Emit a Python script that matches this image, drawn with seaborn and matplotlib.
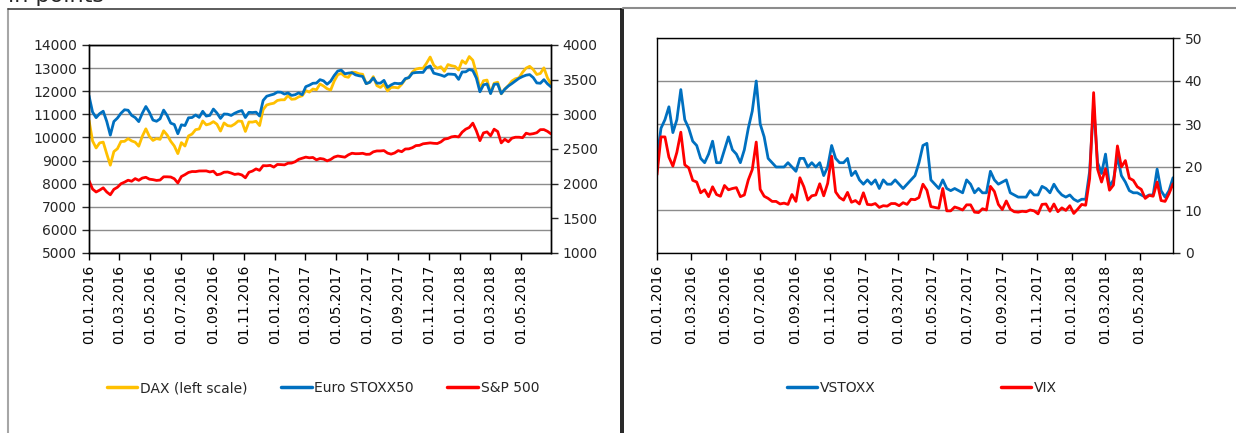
import matplotlib
matplotlib.use("Agg")
import matplotlib.pyplot as plt
import matplotlib.dates as mdates
from matplotlib.lines import Line2D
import seaborn as sns
import pandas as pd

# weekly readings (Fridays), 01.01.2016 - 29.06.2018
dates = pd.date_range("2016-01-01", "2018-06-29", freq="W-FRI")

dax = [
    # 2016
    10743, 9849, 9545, 9764, 9798, 9286, 8800, 9388, 9513, 9824, 9831, 9950, 9851,
    9794, 9622, 10051, 10373, 10039, 9870, 9952, 9917, 10287, 10103, 9834, 9631, 9300,
    9776, 9629, 10066, 10147, 10337, 10367, 10713, 10544, 10588, 10684, 10573, 10276,
    10627, 10511, 10490, 10580, 10711, 10696, 10259, 10668, 10664, 10700, 10513, 11203,
    11404, 11450, 11481,
    # 2017
    11599, 11629, 11630, 11814, 11651, 11666, 11757, 11804, 12027, 11963, 12095, 12064,
    12313, 12225, 12109, 12049, 12438, 12717, 12770, 12638, 12602, 12823, 12815, 12753,
    12733, 12325, 12389, 12631, 12240, 12163, 12298, 12014, 12165, 12168, 12143, 12304,
    12519, 12592, 12829, 12956, 12992, 12991, 13217, 13479, 13127, 12994, 13060, 12861,
    13153, 13104, 13072, 12918,
    # 2018
    13320, 13202, 13500, 13340, 12785, 12107, 12452, 12483, 11914, 12346, 12390, 11886,
    12097, 12241, 12442, 12540, 12580, 12820, 13001, 13078, 12938, 12724, 12767, 13011,
    12580, 12306,
]

stoxx50 = [
    # 2016
    3268, 3033, 2952, 3010, 3045, 2897, 2700, 2897, 2946, 3016, 3066, 3059, 2985,
    2953, 2895, 3016, 3113, 3028, 2917, 2900, 2935, 3061, 2983, 2873, 2853, 2720,
    2849, 2838, 2950, 2954, 2991, 2956, 3044, 2975, 2985, 3076, 3019, 2941, 3005,
    3002, 2984, 3016, 3039, 3055, 2954, 3029, 3026, 3031, 2976, 3200, 3261, 3277, 3291,
    # 2017
    3321, 3319, 3292, 3309, 3273, 3283, 3310, 3283, 3399, 3420, 3448, 3451, 3500,
    3483, 3434, 3478, 3560, 3625, 3637, 3585, 3595, 3601, 3569, 3556, 3547, 3442,
    3463, 3525, 3450, 3450, 3490, 3389, 3424, 3449, 3443, 3447, 3515, 3530, 3595,
    3603, 3605, 3605, 3674, 3697, 3594, 3580, 3566, 3547, 3581, 3579, 3574, 3504,
    # 2018
    3611, 3613, 3647, 3631, 3523, 3325, 3425, 3439, 3299, 3433, 3437, 3298, 3362,
    3409, 3444, 3483, 3520, 3545, 3565, 3573, 3530, 3453, 3448, 3500, 3440, 3396,
]

sp500 = [
    # 2016
    2044, 1922, 1880, 1907, 1940, 1880, 1840, 1918, 1948, 1999, 2022, 2050, 2035,
    2073, 2048, 2081, 2092, 2065, 2058, 2047, 2052, 2099, 2099, 2096, 2071, 2010,
    2103, 2130, 2162, 2175, 2174, 2183, 2184, 2184, 2169, 2180, 2128, 2139, 2165,
    2168, 2153, 2133, 2141, 2126, 2085, 2164, 2182, 2213, 2192, 2260, 2258, 2264, 2239,
    # 2017
    2277, 2275, 2271, 2295, 2297, 2316, 2351, 2367, 2383, 2373, 2378, 2344, 2363,
    2355, 2329, 2349, 2384, 2399, 2391, 2382, 2416, 2439, 2432, 2433, 2438, 2423,
    2425, 2459, 2472, 2472, 2477, 2441, 2426, 2443, 2477, 2461, 2500, 2502, 2519,
    2549, 2553, 2575, 2581, 2588, 2582, 2579, 2602, 2642, 2652, 2675, 2683, 2674,
    # 2018
    2743, 2786, 2810, 2873, 2762, 2620, 2732, 2747, 2691, 2786, 2752, 2588, 2641,
    2604, 2656, 2670, 2670, 2663, 2728, 2713, 2721, 2735, 2779, 2780, 2755, 2718,
]

vstoxx = [
    # 2016
    22, 29, 31, 34, 28, 31, 38, 31, 29, 26, 25, 22, 21,
    23, 26, 21, 21, 24, 27, 24, 23, 21, 24, 29, 33, 40,
    30, 27, 22, 21, 20, 20, 20, 21, 20, 19, 22, 22, 20,
    21, 20, 21, 18, 20, 25, 22, 21, 21, 22, 18, 19, 17, 16,
    # 2017
    17, 16, 17, 15, 17, 16, 16, 17, 16, 15, 16, 17, 18,
    21, 25, 25.5, 17, 16, 15, 17, 15, 14.5, 15, 14.5, 14, 17,
    16, 14, 15, 14, 14, 19, 17, 16, 16.5, 17, 14, 13.5, 13,
    13, 13, 14.5, 13.5, 13.5, 15.5, 15, 14, 16, 14.5, 13.5, 13, 13.5,
    # 2018
    12.5, 12, 12.5, 12.5, 19, 34.5, 21, 18.5, 23, 15.5, 17, 22.5, 18,
    16.5, 14.5, 14, 14, 13.5, 13, 13.5, 13.5, 19.5, 14.5, 13, 14.5, 17.5,
]

vix = [
    # 2016
    18.2, 27.0, 27.0, 22.3, 20.2, 23.4, 28.1, 20.5, 19.8, 16.9, 16.5, 14.0, 14.7,
    13.1, 15.4, 13.6, 13.2, 15.7, 14.7, 15.0, 15.2, 13.1, 13.5, 17.0, 19.4, 25.8,
    14.8, 13.2, 12.7, 12.0, 12.0, 11.4, 11.6, 11.3, 13.6, 12.0, 17.5, 15.4, 12.3,
    13.3, 13.5, 16.1, 13.3, 16.2, 22.5, 14.2, 12.9, 12.3, 14.1, 11.8, 12.2, 11.4, 14.0,
    # 2017
    11.3, 11.2, 11.5, 10.6, 11.0, 10.9, 11.5, 11.5, 11.0, 11.7, 11.3, 12.5, 12.4,
    12.9, 16.0, 14.6, 10.8, 10.6, 10.4, 15.0, 9.8, 9.8, 10.7, 10.4, 10.0, 11.2,
    11.2, 9.5, 9.4, 10.3, 10.0, 15.5, 14.3, 11.3, 10.1, 12.1, 10.2, 9.6, 9.5,
    9.7, 9.6, 10.0, 9.8, 9.1, 11.3, 11.4, 9.7, 11.4, 9.6, 10.5, 9.9, 11.0,
    # 2018
    9.2, 10.2, 11.3, 11.1, 17.3, 37.3, 19.5, 16.5, 19.6, 14.6, 15.8, 24.9, 20.0,
    21.5, 17.4, 16.9, 15.4, 14.8, 12.7, 13.4, 13.2, 16.5, 12.2, 12.0, 13.8, 16.1,
]

df = pd.DataFrame({"date": dates, "dax": dax, "stoxx50": stoxx50, "sp500": sp500,
                   "vstoxx": vstoxx, "vix": vix})

sns.set_style("white")
plt.rcParams["font.family"] = ["DejaVu Sans"]
plt.rcParams["font.size"] = 10

W, H = 1236, 433
fig = plt.figure(figsize=(W / 100, H / 100), dpi=100)

YELLOW, BLUE, RED = "#FFC000", "#0070C0", "#FF0000"
LW = 2.0


def px(x0, y_top, x1, y_bot):
    return [x0 / W, 1 - y_bot / H, (x1 - x0) / W, (y_bot - y_top) / H]


def style_dates(ax):
    ax.set_xlim(pd.Timestamp("2016-01-01"), pd.Timestamp("2018-06-29"))
    ax.xaxis.set_major_locator(mdates.MonthLocator(bymonth=(1, 3, 5, 7, 9, 11)))
    ax.xaxis.set_major_formatter(mdates.DateFormatter("%d.%m.%Y"))
    ax.tick_params(axis="x", rotation=90, direction="out", length=5, width=1,
                   labelsize=10, bottom=True, colors="black")
    ax.set_xlabel("")


# ---- left panel: stock indices
ax1 = fig.add_axes(px(89, 45, 551, 253))
sns.lineplot(data=df, x="date", y="dax", ax=ax1, color=YELLOW, lw=LW)
ax1.set_ylim(5000, 14000)
ax1.set_yticks(range(5000, 14001, 1000))
ax1.yaxis.grid(True, color="#8c8c8c", lw=1)
ax1.set_axisbelow(True)
ax1.set_ylabel("")
ax1.tick_params(axis="y", direction="out", length=5, width=1, labelsize=10, left=True)
style_dates(ax1)

ax2 = ax1.twinx()
sns.lineplot(data=df, x="date", y="stoxx50", ax=ax2, color=BLUE, lw=LW)
sns.lineplot(data=df, x="date", y="sp500", ax=ax2, color=RED, lw=LW)
ax2.set_ylim(1000, 4000)
ax2.set_yticks(range(1000, 4001, 500))
ax2.set_ylabel("")
ax2.tick_params(axis="y", direction="out", length=5, width=1, labelsize=10, right=True)
style_dates(ax2)

for a in (ax1, ax2):
    for s in a.spines.values():
        s.set_color("black")
        s.set_linewidth(1)

fig.legend([Line2D([], [], color=c, lw=2.5) for c in (YELLOW, BLUE, RED)],
           ["DAX (left scale)", "Euro STOXX50", "S&P 500"],
           loc="center", bbox_to_anchor=(323 / W, 1 - 388 / H), ncol=3, frameon=False,
           fontsize=10, handlelength=2.2, handletextpad=0.2, columnspacing=2.4)

# ---- right panel: volatility indices
ax3 = fig.add_axes(px(657, 38, 1173, 253))
sns.lineplot(data=df, x="date", y="vstoxx", ax=ax3, color=BLUE, lw=LW)
sns.lineplot(data=df, x="date", y="vix", ax=ax3, color=RED, lw=LW)
ax3.set_ylim(0, 50)
ax3.set_yticks(range(0, 51, 10))
ax3.yaxis.grid(True, color="#8c8c8c", lw=1)
ax3.set_axisbelow(True)
ax3.yaxis.tick_right()
ax3.set_ylabel("")
ax3.tick_params(axis="y", direction="out", length=5, width=1, labelsize=10, right=True, left=False)
style_dates(ax3)
for s in ax3.spines.values():
    s.set_color("black")
    s.set_linewidth(1)

fig.legend([Line2D([], [], color=c, lw=2.5) for c in (BLUE, RED)],
           ["VSTOXX", "VIX"],
           loc="center", bbox_to_anchor=(922 / W, 1 - 388 / H), ncol=2, frameon=False,
           fontsize=10, handlelength=2.2, handletextpad=0.2, columnspacing=9)

# ---- panel frames and the heading that is cut off at the top edge
def frame_line(x0, y0, x1, y1, color, lw=1.2):
    fig.add_artist(Line2D([x0 / W, x1 / W], [1 - y0 / H, 1 - y1 / H],
                          transform=fig.transFigure, color=color, lw=lw))


frame_line(7.5, 8.5, 7.5, H, "#a6a6a6", 1.5)
frame_line(7.5, 8.5, 620.5, 8.5, "#404040")
frame_line(620.5, 8.5, 620.5, H, "black")
frame_line(622.5, 8.5, 622.5, H, "black")
frame_line(622.5, 7.5, W, 7.5, "#8c8c8c", 1.5)

fig.text(8 / W, 1 - 2.5 / H, "in points", fontsize=16, va="baseline", ha="left")

fig.savefig("out.png", dpi=100)
